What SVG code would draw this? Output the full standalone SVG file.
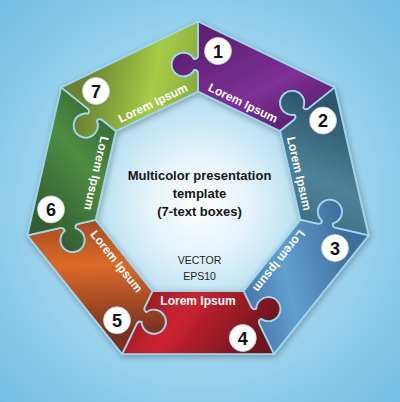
<svg xmlns="http://www.w3.org/2000/svg" width="400" height="402" viewBox="0 0 400 402">
<defs>
<radialGradient id="bg" gradientUnits="userSpaceOnUse" cx="199" cy="205" r="285">
<stop offset="0" stop-color="#ffffff"/>
<stop offset="0.18" stop-color="#e4f3fa"/>
<stop offset="0.42" stop-color="#aadaf0"/>
<stop offset="1" stop-color="#70bee5"/>
</radialGradient>
<linearGradient id="g1" x1="0" y1="0" x2="1" y2="0.3"><stop offset="0" stop-color="#4a1858"/><stop offset="0.5" stop-color="#7e3096"/><stop offset="1" stop-color="#5e2274"/></linearGradient>
<linearGradient id="g2" x1="0" y1="0" x2="1" y2="0.3"><stop offset="0" stop-color="#386680"/><stop offset="0.5" stop-color="#4e8299"/><stop offset="1" stop-color="#2d566c"/></linearGradient>
<linearGradient id="g3" x1="0" y1="0" x2="1" y2="0.3"><stop offset="0" stop-color="#386290"/><stop offset="0.5" stop-color="#62a0d0"/><stop offset="1" stop-color="#3e6e9c"/></linearGradient>
<linearGradient id="g4" x1="0" y1="0" x2="1" y2="0.3"><stop offset="0" stop-color="#861a20"/><stop offset="0.45" stop-color="#cc2230"/><stop offset="1" stop-color="#70161e"/></linearGradient>
<linearGradient id="g5" x1="0" y1="0" x2="1" y2="0.3"><stop offset="0" stop-color="#8a3a1e"/><stop offset="0.5" stop-color="#dc6a28"/><stop offset="1" stop-color="#783220"/></linearGradient>
<linearGradient id="g6" x1="0" y1="0" x2="1" y2="0.3"><stop offset="0" stop-color="#2e5c2e"/><stop offset="0.5" stop-color="#4e8c42"/><stop offset="1" stop-color="#335f30"/></linearGradient>
<linearGradient id="g7" x1="0" y1="0" x2="1" y2="0.3"><stop offset="0" stop-color="#789a38"/><stop offset="0.5" stop-color="#a6cc46"/><stop offset="1" stop-color="#6a8230"/></linearGradient>
<path id="piece" d="M -75.93,157.67 L 75.93,157.67 L 61.17,127.04 Q 59.93,123.76 63.11,122.22 A 12 12 0 1 0 58.33,112.31 Q 55.15,113.85 53.37,110.82 L 45.56,94.60 L -45.56,94.60 L -53.37,110.82 Q -54.63,114.10 -51.44,115.63 A 12 12 0 1 1 -56.21,125.54 Q -59.39,124.02 -61.19,127.03 Z"/>
<filter id="sh" x="-20%" y="-20%" width="140%" height="140%">
<feGaussianBlur in="SourceAlpha" stdDeviation="3"/>
<feOffset dx="1" dy="2"/>
<feComponentTransfer><feFuncA type="linear" slope="0.3"/></feComponentTransfer>
<feMerge><feMergeNode/><feMergeNode in="SourceGraphic"/></feMerge>
</filter>
</defs>
<style>
.pc{stroke:#9ed6ee;stroke-width:1.8;stroke-linejoin:round}
.lbl{font-family:"Liberation Sans",Arial,sans-serif;font-weight:bold;font-size:12px;fill:#ffffff;text-anchor:middle}
.nc{fill:#ffffff;stroke:#c8d4da;stroke-width:0.8}
.num{font-family:"Liberation Sans",Arial,sans-serif;font-weight:bold;font-size:18px;fill:#111111;text-anchor:middle}
.title{font-family:"Liberation Sans",Arial,sans-serif;font-weight:bold;font-size:13px;fill:#161616;text-anchor:middle}
.sub{font-family:"Liberation Sans",Arial,sans-serif;font-size:10.5px;fill:#222222;text-anchor:middle}
</style>
<rect x="0" y="0" width="400" height="402" fill="url(#bg)"/>
<g id="connectors"/>
<g id="ring" filter="url(#sh)">
<g id="seg1"><use href="#piece" class="pc" fill="url(#g1)" transform="translate(198,196.5) rotate(-154.2857)"/></g>
<g id="seg2"><use href="#piece" class="pc" fill="url(#g2)" transform="translate(198,196.5) rotate(-102.8571)"/></g>
<g id="seg3"><use href="#piece" class="pc" fill="url(#g3)" transform="translate(198,196.5) rotate(-51.4286)"/></g>
<g id="seg4"><use href="#piece" class="pc" fill="url(#g4)" transform="translate(198,196.5)"/></g>
<g id="seg5"><use href="#piece" class="pc" fill="url(#g5)" transform="translate(198,196.5) rotate(51.4286)"/></g>
<g id="seg6"><use href="#piece" class="pc" fill="url(#g6)" transform="translate(198,196.5) rotate(102.8571)"/></g>
<g id="seg7"><use href="#piece" class="pc" fill="url(#g7)" transform="translate(198,196.5) rotate(154.2857)"/></g>
</g>
<g id="node1"><text class="lbl" transform="translate(243.1,102.8) rotate(25.71)" dy="4.3">Lorem Ipsum</text><circle class="nc" cx="218" cy="51" r="13.5"/><text class="num" x="218" y="57.5">1</text></g>
<g id="node2"><text class="lbl" transform="translate(299.4,173.4) rotate(77.14)" dy="4.3">Lorem Ipsum</text><circle class="nc" cx="323" cy="120.5" r="13.5"/><text class="num" x="323" y="127">2</text></g>
<g id="node3"><text class="lbl" transform="translate(279.3,261.3) rotate(128.57)" dy="4.3">Lorem Ipsum</text><circle class="nc" cx="335" cy="248" r="13.5"/><text class="num" x="335" y="254.5">3</text></g>
<g id="node4"><text class="lbl" transform="translate(198,300.5)" dy="4.3">Lorem Ipsum</text><circle class="nc" cx="242.8" cy="338" r="13.5"/><text class="num" x="242.8" y="344.5">4</text></g>
<g id="node5"><text class="lbl" transform="translate(116.7,261.3) rotate(51.43)" dy="4.3">Lorem Ipsum</text><circle class="nc" cx="117" cy="320.3" r="13.5"/><text class="num" x="117" y="326.8">5</text></g>
<g id="node6"><text class="lbl" transform="translate(96.6,173.4) rotate(102.86)" dy="4.3">Lorem Ipsum</text><circle class="nc" cx="51" cy="209.4" r="13.5"/><text class="num" x="51" y="215.9">6</text></g>
<g id="node7"><text class="lbl" transform="translate(152.9,102.8) rotate(-25.71)" dy="4.3">Lorem Ipsum</text><circle class="nc" cx="96" cy="91" r="13.5"/><text class="num" x="96" y="97.5">7</text></g>
<g id="center">
<text class="title" x="199.5" y="180">Multicolor presentation</text>
<text class="title" x="199.5" y="198">template</text>
<text class="title" x="199.5" y="216">(7-text boxes)</text>
<text class="sub" x="199.5" y="264">VECTOR</text>
<text class="sub" x="199.5" y="280">EPS10</text>
</g>
</svg>
